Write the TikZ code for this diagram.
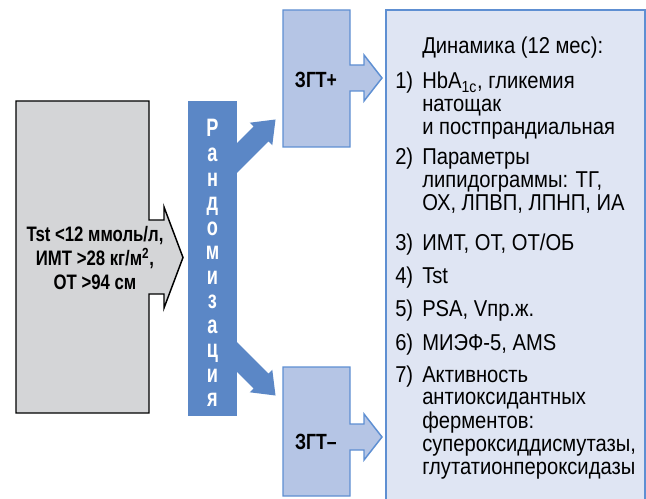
\documentclass[tikz,border=0pt]{standalone}
\usepackage{fontspec}
\usepackage{xcolor}
\usepackage{tikz}
\setmainfont{Liberation Sans}[FakeStretch=0.88]
\newfontfamily\condbold{Liberation Sans}[FakeStretch=0.8]
\newfontfamily\barfont{Liberation Sans}[FakeStretch=0.72]
\definecolor{grbox}{HTML}{D4D5D7}
\definecolor{rndblue}{HTML}{5B87C6}
\definecolor{grpfill}{HTML}{B5C5E5}
\definecolor{grpline}{HTML}{5E8FD2}
\definecolor{resfill}{HTML}{DFE5F3}
\newcommand{\itemlines}[1]{\begin{tabular}[t]{@{}l@{}}#1\end{tabular}}

\begin{document}
\begin{tikzpicture}[x=0.75pt, y=-0.75pt,
  grp/.style={draw=grpline, fill=grpfill, line width=1.1pt},
  boldtext/.style={inner sep=0pt, font=\condbold\bfseries\fontsize{16.5}{18}\selectfont},
  restext/.style={inner sep=0pt, anchor=base west,
    font=\fontsize{17.2}{17.2}\selectfont}]
\useasboundingbox (0,0) rectangle (646,499);
\clip (0,0) rectangle (646,499);

% inclusion criteria
\draw[black, line width=1.1pt, fill=grbox] (16,101) -- (149,101) -- (149,220) -- (164,220)
  -- (164,207) -- (183,257.5) -- (164,308) -- (164,294) -- (149,294) -- (149,413)
  -- (16,413) -- cycle;
\node[boldtext, align=center, font=\condbold\bfseries\fontsize{15.7}{18}\selectfont] (crit) at (95,258)
  {Tst <12 ммоль/л,\\ИМТ >28 кг/м\textsuperscript{2},\\ОТ >94 см};

% randomisation
\fill[rndblue] (188,101) rectangle (237,416);
\foreach \s in {1,-1}
  \fill[rndblue, shift={(0,257.5)}, yscale=\s] (236,-113.3) -- (253.6,-130.9) -- (249.7,-134.8)
    -- (275.5,-138) -- (272.3,-112.2) -- (268.4,-116.1) -- (236,-83.7) -- cycle;
\foreach \l [count=\i] in {Р,а,н,д,о,м,и,з,а,ц,и,я}
  \node[inner sep=0pt, anchor=base, text=white, font=\barfont\bfseries\fontsize{18.9}{20}\selectfont]
    (rnd\i) at (212.5,{137+(\i-1)*24.5}) {\l};

% groups
\foreach \top/\bot/\mid in {10/147/78, 367/496/437}
  \draw[grp] (283,\top) -- (350,\top) -- (350,{\mid-13}) -- (364,{\mid-13}) -- (364,{\mid-23})
    -- (382,\mid) -- (364,{\mid+23}) -- (364,{\mid+13}) -- (350,{\mid+13}) -- (350,\bot)
    -- (283,\bot) -- cycle;
\node[boldtext] (plus) at (316,80) {ЗГТ+};
\node[boldtext] (minus) at (316,442) {ЗГТ–};

% outcomes
\draw[draw=grpline, fill=resfill, line width=1.1pt] (386,10) rectangle (645,510);
\node[restext] (title) at (422,54) {Динамика (12 мес):};
\foreach \n/\y/\t in {1/89/{HbA\textsubscript{1c}, гликемия\\натощак\\и постпрандиальная},
    2/165/{Параметры\\липидограммы: ТГ,\\ОХ, ЛПВП, ЛПНП, ИА},
    3/250/{ИМТ, ОТ, ОТ/ОБ}, 4/283/{Tst}, 5/316/{PSA, Vпр.ж.}, 6/350/{МИЭФ-5, AMS},
    7/382/{Активность\\антиоксидантных\\ферментов:\\супероксиддисмутазы,\\глутатионпероксидазы}}{
  \node[restext] (num\n) at (395,\y) {\n)};
  \node[restext] (item\n) at (422,\y) {\itemlines{\t}};
}
\end{tikzpicture}
\end{document}
